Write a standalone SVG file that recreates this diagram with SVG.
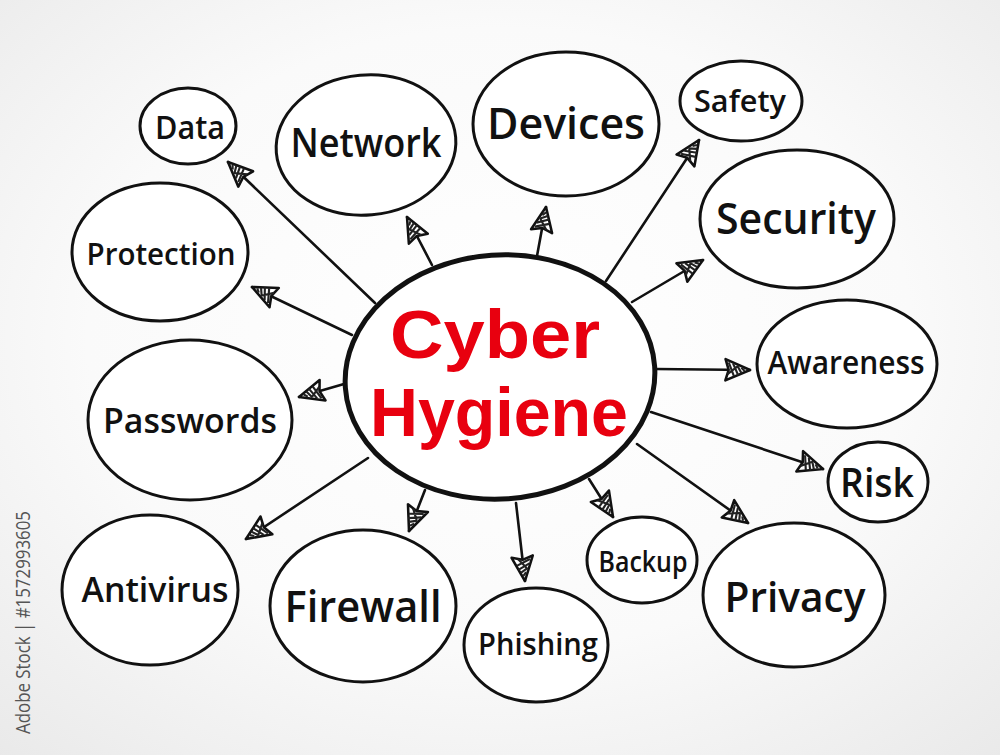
<svg xmlns="http://www.w3.org/2000/svg" width="1000" height="755" viewBox="0 0 1000 755">
<defs>
<radialGradient id="bg" cx="0.5" cy="0.45" r="0.75">
<stop offset="0" stop-color="#ffffff"/>
<stop offset="0.55" stop-color="#fafafa"/>
<stop offset="1" stop-color="#e9e9e9"/>
</radialGradient>
<marker id="arr" markerUnits="userSpaceOnUse" markerWidth="32" markerHeight="32" viewBox="-26 -13 30 26" refX="0" refY="0" orient="auto">
<path d="M0,0 L-23,-10 L-20,0 L-23,10 Z" fill="#fff" stroke="#111" stroke-width="2.4" stroke-linejoin="round"/>
<path d="M-20,-7 L-15,6 M-16,-6 L-11,5 M-12,-4 L-8,3 M-8,-2 L-5,1 M-21,4 L-12,-3" stroke="#222" stroke-width="2"/>
</marker>
<style>
.n{fill:#fff;stroke:#111;stroke-width:3}
.t{font-family:"Open Sans","DejaVu Sans",sans-serif;font-weight:600;fill:#111;text-anchor:middle}
.c{font-family:"Liberation Sans","Open Sans",sans-serif;font-weight:700;fill:#e8000f;text-anchor:middle}
.e{fill:none;stroke:#111;stroke-width:2.6;stroke-linecap:round;marker-end:url(#arr)}
</style>
</defs>
<rect width="1000" height="755" fill="url(#bg)"/>
<text x="30" y="734" transform="rotate(-90 30 734)" font-family="'Open Sans','DejaVu Sans',sans-serif" font-size="20" fill="#555" textLength="223" lengthAdjust="spacingAndGlyphs">Adobe Stock | #1572993605</text>

<g id="connectors">
<path class="e" d="M375,303 L228,162"/>
<path class="e" d="M352,335 L252,287"/>
<path class="e" d="M344,384 L299,397"/>
<path class="e" d="M368,458 L246,539"/>
<path class="e" d="M425,490 L409,531"/>
<path class="e" d="M516,503 L525,581"/>
<path class="e" d="M589,479 L613,517"/>
<path class="e" d="M637,444 L748,523"/>
<path class="e" d="M651,412 L823,469"/>
<path class="e" d="M656,369 L750,370"/>
<path class="e" d="M632,302 L703,260"/>
<path class="e" d="M606,281 L699,140"/>
<path class="e" d="M537,256 L546,207"/>
<path class="e" d="M432,265 L407,217"/>
</g>

<g id="center">
<ellipse cx="500" cy="377" rx="155" ry="122" transform="rotate(-4 500 377)" fill="#fff" stroke="#111" stroke-width="5"/>
<text class="c" x="495" y="358" font-size="68" textLength="210" lengthAdjust="spacingAndGlyphs">Cyber</text>
<text class="c" x="499" y="436" font-size="68" textLength="258" lengthAdjust="spacingAndGlyphs">Hygiene</text>
</g>

<g id="data"><ellipse class="n" cx="188" cy="126" rx="48" ry="38"/><text class="t" x="190" y="139" font-size="32" textLength="70" lengthAdjust="spacingAndGlyphs">Data</text></g>
<g id="network"><ellipse class="n" cx="366" cy="145" rx="90" ry="70" transform="rotate(-5 366 145)"/><text class="t" x="366" y="157" font-size="40" textLength="151" lengthAdjust="spacingAndGlyphs">Network</text></g>
<g id="devices"><ellipse class="n" cx="566" cy="124" rx="93" ry="72"/><text class="t" x="566" y="139" font-size="44" textLength="158" lengthAdjust="spacingAndGlyphs">Devices</text></g>
<g id="safety"><ellipse class="n" cx="741" cy="101" rx="61" ry="40"/><text class="t" x="740" y="112" font-size="30" textLength="92" lengthAdjust="spacingAndGlyphs">Safety</text></g>
<g id="security"><ellipse class="n" cx="797" cy="219" rx="97" ry="69"/><text class="t" x="796" y="234" font-size="44" textLength="160" lengthAdjust="spacingAndGlyphs">Security</text></g>
<g id="awareness"><ellipse class="n" cx="847" cy="364" rx="90" ry="64"/><text class="t" x="846" y="374" font-size="32" textLength="157" lengthAdjust="spacingAndGlyphs">Awareness</text></g>
<g id="risk"><ellipse class="n" cx="878" cy="482" rx="50" ry="40"/><text class="t" x="877" y="497" font-size="40" textLength="74" lengthAdjust="spacingAndGlyphs">Risk</text></g>
<g id="privacy"><ellipse class="n" cx="794" cy="595" rx="91" ry="72"/><text class="t" x="795" y="612" font-size="42" textLength="141" lengthAdjust="spacingAndGlyphs">Privacy</text></g>
<g id="backup"><ellipse class="n" cx="642" cy="560" rx="55" ry="43"/><text class="t" x="643" y="572" font-size="28" textLength="89" lengthAdjust="spacingAndGlyphs">Backup</text></g>
<g id="phishing"><ellipse class="n" cx="536" cy="645" rx="72" ry="57"/><text class="t" x="538" y="655" font-size="30" textLength="120" lengthAdjust="spacingAndGlyphs">Phishing</text></g>
<g id="firewall"><ellipse class="n" cx="363" cy="606" rx="93" ry="76"/><text class="t" x="363" y="622" font-size="44" textLength="157" lengthAdjust="spacingAndGlyphs">Firewall</text></g>
<g id="antivirus"><ellipse class="n" cx="150" cy="590" rx="88" ry="75"/><text class="t" x="155" y="602" font-size="34" textLength="147" lengthAdjust="spacingAndGlyphs">Antivirus</text></g>
<g id="passwords"><ellipse class="n" cx="190" cy="420" rx="102" ry="80"/><text class="t" x="190" y="433" font-size="34" textLength="174" lengthAdjust="spacingAndGlyphs">Passwords</text></g>
<g id="protection"><ellipse class="n" cx="160" cy="252" rx="88" ry="69"/><text class="t" x="161" y="265" font-size="30" textLength="149" lengthAdjust="spacingAndGlyphs">Protection</text></g>
</svg>
